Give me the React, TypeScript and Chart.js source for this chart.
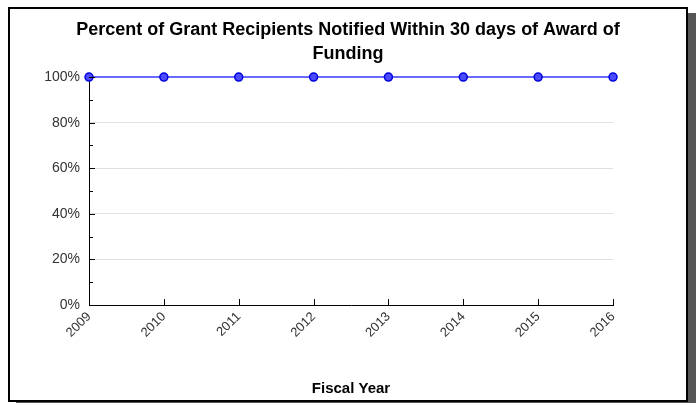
import React, { useEffect, useRef } from "react";
import { Chart, registerables } from "chart.js";

Chart.register(...registerables);

const fiscalYears = ["2009", "2010", "2011", "2012", "2013", "2014", "2015", "2016"];
const percentNotified = [100, 100, 100, 100, 100, 100, 100, 100];
const titleLines = ["Percent of Grant Recipients Notified Within 30 days of Award of", "Funding"];
const xAxisTitle = "Fiscal Year";

const FONT = "'Liberation Sans', Arial, sans-serif";

const inwardTicks = {
  id: "inwardTicks",
  afterDraw(chart: any) {
    const { ctx, chartArea, scales } = chart;
    const y = scales.y;
    const x = scales.x;
    ctx.save();
    ctx.strokeStyle = "#000";
    ctx.lineWidth = 1;
    ctx.beginPath();
    for (let v = 0; v <= 100; v += 10) {
      const py = Math.round(y.getPixelForValue(v)) + 0.5;
      const len = v % 20 === 0 ? 6 : 4;
      ctx.moveTo(chartArea.left, py);
      ctx.lineTo(chartArea.left + len, py);
    }
    for (let i = 0; i < fiscalYears.length; i++) {
      const px = Math.round(x.getPixelForValue(i)) + 0.5;
      ctx.moveTo(px, chartArea.bottom);
      ctx.lineTo(px, chartArea.bottom - 6);
    }
    ctx.stroke();
    ctx.restore();
  },
};

export default function App() {
  const ref = useRef<HTMLCanvasElement>(null);
  useEffect(() => {
    if (!ref.current) return;
    const chart = new Chart(ref.current, {
      type: "line",
      data: {
        labels: fiscalYears,
        datasets: [
          {
            data: percentNotified,
            borderColor: "#6a6aff",
            borderWidth: 2,
            pointBackgroundColor: "#4a4aff",
            pointBorderColor: "#0000e0",
            pointBorderWidth: 1.5,
            pointRadius: 4,
            clip: false as any,
            tension: 0,
            yAxisID: "y",
          },
        ],
      },
      options: {
        animation: false,
        responsive: false,
        maintainAspectRatio: false,
        layout: { padding: 0 },
        plugins: {
          legend: { display: false },
          tooltip: { enabled: false },
          title: {
            display: true,
            text: titleLines,
            color: "#000",
            font: { family: FONT, size: 18, weight: "bold", lineHeight: 1.28 },
            padding: { top: 10, bottom: 12 },
          },
        },
        scales: {
          x: {
            type: "category",
            offset: false,
            grid: { display: false, drawTicks: false },
            border: { display: true, color: "#000", width: 1 },
            ticks: {
              color: "#333",
              font: { family: FONT, size: 13 },
              minRotation: 45,
              maxRotation: 45,
              padding: 4,
            },
            title: {
              display: true,
              text: xAxisTitle,
              color: "#000",
              font: { family: FONT, size: 15, weight: "bold" },
              padding: { top: 0, bottom: 2 },
            },
            afterFit(scale: any) {
              scale.height = 95;
            },
          },
          y: {
            min: 0,
            max: 100,
            position: "left",
            grid: { display: true, color: "#e0e0e0", drawTicks: false },
            border: { display: true, color: "#000", width: 1 },
            ticks: {
              stepSize: 20,
              color: "#333",
              font: { family: FONT, size: 14 },
              padding: 9,
              callback: (v: any) => v + "%",
            },
            afterFit(scale: any) {
              scale.width = 79;
            },
          },
          yRight: {
            position: "right",
            min: 0,
            max: 100,
            grid: { display: false, drawTicks: false },
            border: { display: false },
            ticks: { display: false },
            afterFit(scale: any) {
              scale.width = 73;
            },
          },
        },
      },
      plugins: [inwardTicks],
    });
    return () => chart.destroy();
  }, []);

  return (
    <div
      style={{
        position: "absolute",
        left: 8,
        top: 7,
        width: 680,
        height: 395,
        boxSizing: "border-box",
        border: "2px solid #000",
        background: "#fff",
        boxShadow: "8px 6px 0 #555",
      }}
    >
      <canvas ref={ref} width={676} height={391} style={{ display: "block" }} />
    </div>
  );
}
